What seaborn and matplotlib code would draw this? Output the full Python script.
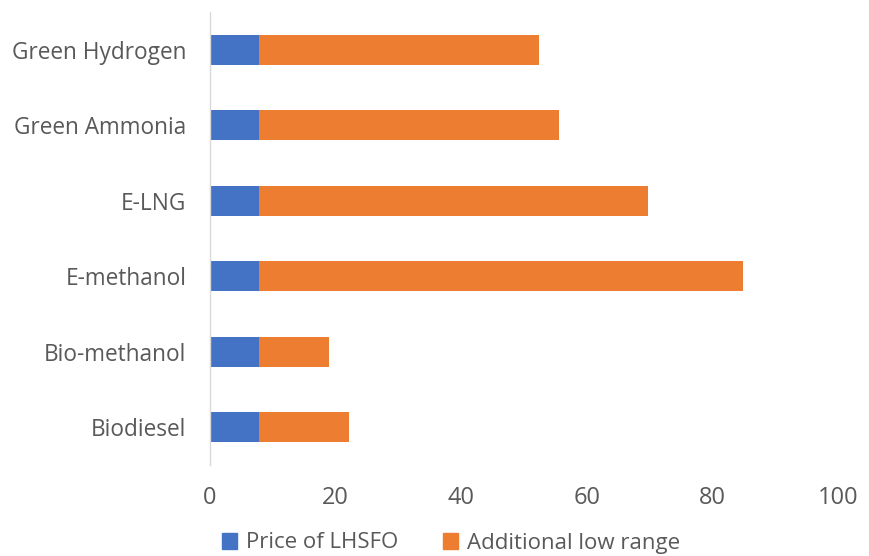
import matplotlib
matplotlib.use("Agg")
import matplotlib.pyplot as plt
import seaborn as sns
import pandas as pd

fuels = ["Green Hydrogen", "Green Ammonia", "E-LNG", "E-methanol", "Bio-methanol", "Biodiesel"]
price_lhsfo = [7.8, 7.8, 7.8, 7.8, 7.8, 7.8]
additional_low = [44.6, 47.8, 61.9, 77.1, 11.1, 14.3]
x_ticks = [0, 20, 40, 60, 80, 100]

series_names = ["Price of LHSFO", "Additional low range"]
colors = ["#4472C4", "#ED7D31"]
text_color = "#595959"

sns.set_theme(style="white")
plt.rcParams["font.family"] = ["Open Sans", "DejaVu Sans"]

df = pd.DataFrame({"fuel": fuels, "base": price_lhsfo, "extra": additional_low})
df["total"] = df["base"] + df["extra"]

fig = plt.figure(figsize=(8.69, 5.56), dpi=100)
ax = fig.add_axes([210 / 869, 1 - 465 / 556, 628 / 869, (465 - 12) / 556])

# stacked: draw totals first (orange), then the base on top (blue)
sns.barplot(data=df, y="fuel", x="total", color=colors[1], orient="h",
            width=0.4, ax=ax, saturation=1, linewidth=0)
sns.barplot(data=df, y="fuel", x="base", color=colors[0], orient="h",
            width=0.4, ax=ax, saturation=1, linewidth=0)

ax.set_xlim(0, 100)
ax.set_ylim(5.5, -0.5)
ax.set_xticks(x_ticks)
ax.set_xlabel("")
ax.set_ylabel("")
ax.tick_params(axis="x", labelsize=17, colors=text_color, length=0, pad=15)
ax.tick_params(axis="y", labelsize=16.3, colors=text_color, length=0, pad=17)

for side in ["top", "right", "bottom"]:
    ax.spines[side].set_visible(False)
ax.spines["left"].set_color("#D9D9D9")
ax.spines["left"].set_linewidth(1)

handles = [plt.Rectangle((0, 0), 1, 1, color=c) for c in colors]
fig.legend(handles, series_names,
           loc="center", bbox_to_anchor=(451 / 869, 1 - 543 / 556), ncol=2,
           frameon=False, fontsize=16, labelcolor=text_color,
           handlelength=0.7, handleheight=0.7, handletextpad=0.4, columnspacing=2.0)

fig.savefig("out.png", dpi=100)
